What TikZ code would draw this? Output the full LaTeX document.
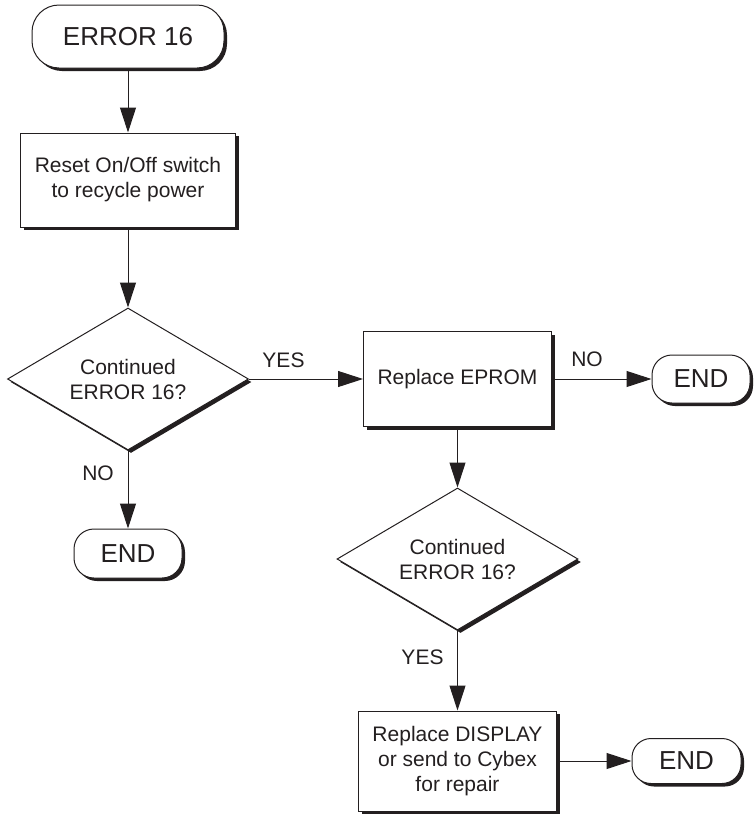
\documentclass[tikz,border=0pt]{standalone}
\usepackage{fontspec}
\setmainfont{Liberation Sans}
\usetikzlibrary{shapes.geometric,shadows,arrows.meta}
\definecolor{ink}{HTML}{231F20}
\begin{document}
\begin{tikzpicture}[x=1pt,y=-1pt,
  every node/.style={text=ink, font=\fontsize{21}{25}\selectfont},
  flowshadow/.style={general shadow={fill=ink, shadow xshift=3pt, shadow yshift=-3pt}},
  procbox/.style={draw=ink, line width=1pt, fill=white, flowshadow, align=center, inner sep=0pt},
  term/.style={draw=ink, line width=1pt, fill=white, flowshadow, inner sep=0pt,
    font=\fontsize{26}{30}\selectfont},
  decision/.style={diamond, aspect=1.7, draw=ink, line width=1pt, fill=white, flowshadow,
    align=center, inner sep=0pt, minimum width=241pt, minimum height=142pt},
  flow/.style={draw=ink, line width=1pt, -{Triangle[length=25pt,width=16pt]}},
  tag/.style={inner sep=0pt}
]
\useasboundingbox (0,0) rectangle (753,817);

% column 1
\node[term, rounded corners=27pt, minimum width=192pt, minimum height=63pt] (start) at (128,36.5) {ERROR 16};
\node[procbox, minimum width=215pt, minimum height=94pt] (reset) at (128,180) {Reset On/Off switch\\to recycle power};
\node[decision] (dec1) at (128,379) {Continued\\ERROR 16?};
\node[term, rounded corners=20pt, minimum width=108pt, minimum height=49pt] (end1) at (128,553.5) {END};

% column 2
\node[procbox, minimum width=188pt, minimum height=95pt] (eprom) at (457.5,379) {Replace EPROM};
\node[term, rounded corners=20pt, minimum width=98pt, minimum height=48pt] (end2) at (701,379) {END};
\node[decision] (dec2) at (457.5,559) {Continued\\ERROR 16?};
\node[procbox, minimum width=198pt, minimum height=100pt] (disp) at (457.5,761) {Replace DISPLAY\\or send to Cybex\\for repair};
\node[term, rounded corners=19pt, minimum width=109pt, minimum height=45pt] (end3) at (686.5,761) {END};

% connectors
\draw[flow] (start) -- (reset);
\draw[flow] (reset) -- (dec1);
\draw[flow] (dec1.east) -- (eprom.west);
\draw[flow] (eprom.east) -- (end2.west);
\draw[flow] (dec1.south) -- (end1.north);
\draw[flow] (eprom.south) -- (dec2.north);
\draw[flow] (dec2.south) -- (disp.north);
\draw[flow] (disp.east) -- (end3.west);

% branch labels
\node[tag] (yes1) at (283.5,360.5) {YES};
\node[tag] (no1) at (587,359.5) {NO};
\node[tag] (no2) at (98,473.5) {NO};
\node[tag] (yes2) at (422.5,657.5) {YES};
\end{tikzpicture}
\end{document}
